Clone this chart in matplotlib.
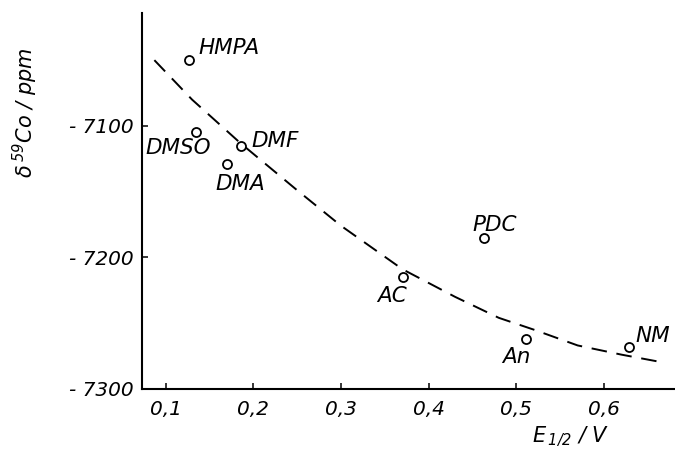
import matplotlib
matplotlib.use('Agg')
import matplotlib.pyplot as plt

# solvents: E1/2 (V) vs delta 59Co (ppm)
solvents = ['HMPA', 'DMSO', 'DMF', 'DMA', 'PDC', 'AC', 'An', 'NM']
e_half = [0.126, 0.135, 0.186, 0.170, 0.463, 0.371, 0.511, 0.628]
shift_ppm = [-7050, -7105, -7115, -7129, -7185, -7215, -7262, -7268]

# label offsets (pixels) and alignment for each solvent
label_offsets = [(10, 12), (-18, -16), (10, 5), (13, -20),
                 (11, 13), (-11, -19), (-10, -18), (7, 11)]
label_ha = ['left', 'center', 'left', 'center', 'center', 'center', 'center', 'left']

# dashed trend curve
curve_x = [0.087, 0.13, 0.185, 0.25, 0.30, 0.37, 0.43, 0.48, 0.52, 0.57, 0.62, 0.66]
curve_y = [-7050, -7080, -7113, -7149, -7176, -7209, -7230, -7246, -7255, -7267, -7274, -7279]

x_ticks = [0.1, 0.2, 0.3, 0.4, 0.5, 0.6]
x_tick_labels = ['0,1', '0,2', '0,3', '0,4', '0,5', '0,6']
y_ticks = [-7100, -7200, -7300]
y_tick_labels = ['- 7100', '- 7200', '- 7300']

plt.rcParams['font.family'] = ['DejaVu Sans']
plt.rcParams['font.style'] = 'italic'
plt.rcParams['mathtext.default'] = 'it'

fig = plt.figure(figsize=(6.75, 4.58), dpi=100)
ax = fig.add_axes([0.210, 0.151, 0.790, 0.821])

ax.plot(curve_x, curve_y, color='black', linewidth=1.4, dashes=(8, 5))
ax.plot(e_half, shift_ppm, linestyle='none', marker='o', markersize=6.5,
        markerfacecolor='white', markeredgecolor='black', markeredgewidth=1.3)

for name, x, y, off, ha in zip(solvents, e_half, shift_ppm, label_offsets, label_ha):
    ax.annotate(name, (x, y), xytext=off, textcoords='offset pixels',
                ha=ha, va='center', fontsize=15.5, style='italic')

ax.set_xlim(0.0726, 0.681)
ax.set_ylim(-7300, -7014)
ax.set_xticks(x_ticks)
ax.set_xticklabels(x_tick_labels, fontsize=14.5, style='italic')
ax.set_yticks(y_ticks)
ax.set_yticklabels(y_tick_labels, fontsize=14.5, style='italic')
ax.tick_params(direction='in', length=4, width=1.1, pad=6)
ax.tick_params(axis='x', pad=8)

for side in ['top', 'right']:
    ax.spines[side].set_visible(False)
for side in ['left', 'bottom']:
    ax.spines[side].set_linewidth(1.5)

fig.text(0.037, 0.755, r'$\delta\,^{59}$Co / ppm', rotation=90,
         ha='center', va='center', fontsize=15, style='italic')
fig.text(0.845, 0.045, r'E$_{\,1/2}$ / V', ha='center', va='center',
         fontsize=15, style='italic')

fig.savefig('out.png', dpi=100)
